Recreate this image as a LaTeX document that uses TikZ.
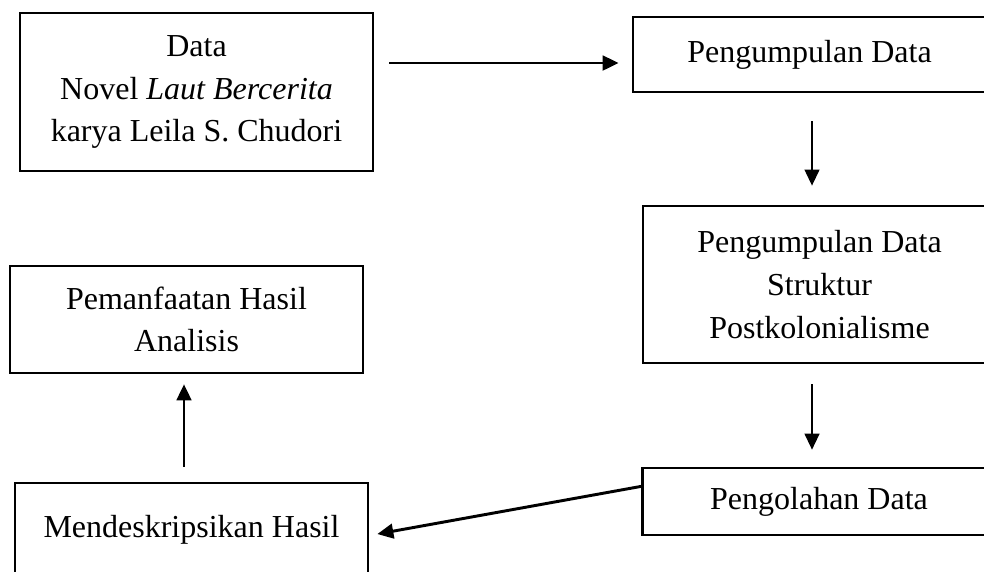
\documentclass[tikz,border=0pt]{standalone}
\usepackage{fontspec}
\setmainfont{Liberation Serif}
\usetikzlibrary{arrows.meta}

\begin{document}
\begin{tikzpicture}[
    x=0.375pt, y=-0.375pt,
    stage/.style={
        rectangle,
        draw=black,
        line width=1pt,
        minimum width=132.4pt,
        minimum height=#1,
        inner sep=2pt,
        align=center,
        font=\fontsize{12}{16}\selectfont
    },
    arrow/.style={
        -{Triangle[length=6pt, width=5.5pt]},
        line width=#1
    }
]

\useasboundingbox (0,0) rectangle (984,571);

% left column
\node[stage=59.3pt] (data) at (196.5,92) {Data\\Novel \textit{Laut Bercerita}\\karya Leila S. Chudori};
\node[stage=40.1pt] (usage) at (186.5,319.5) {Pemanfaatan Hasil\\Analisis};
\node[stage=35.3pt] (describe) at (191.5,530) {Mendeskripsikan Hasil};

% right column
\node[stage=28.1pt] (collect) at (809.5,54.5) {Pengumpulan Data};
\node[stage=58.9pt] (structure) at (819.5,284.5) {Pengumpulan Data\\Struktur\\Postkolonialisme};
\node[stage=25.1pt] (processing) at (819,501.5) {Pengolahan Data};

\draw[arrow=1.1pt] ([shift={(15,-29)}]data.east) -- ([shift={(-13,8.5)}]collect.west);
\draw[arrow=0.8pt] ([shift={(2.5,28)}]collect.south) -- ([shift={(-7.5,-19)}]structure.north);
\draw[arrow=0.8pt] ([shift={(-7.5,20)}]structure.south) -- ([shift={(-7,-17)}]processing.north);
\draw[arrow=1.1pt] ([shift={(2,-15.5)}]processing.west) -- ([shift={(8,4)}]describe.east);
\draw[arrow=1pt] ([shift={(-7.5,-15)}]describe.north) -- ([shift={(-2.5,10)}]usage.south);

\end{tikzpicture}
\end{document}
